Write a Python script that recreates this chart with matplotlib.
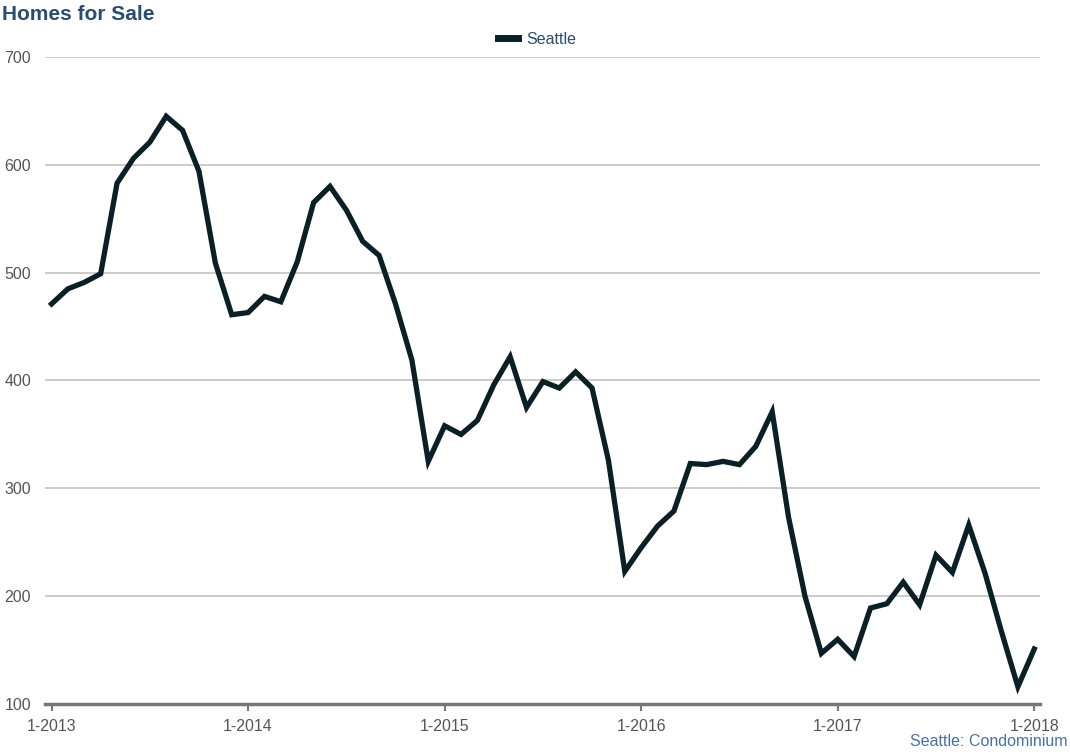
import numpy as np
import matplotlib
matplotlib.use("Agg")
import matplotlib.pyplot as plt

plt.rcParams['font.family'] = ['Liberation Sans', 'DejaVu Sans']

# monthly homes for sale, Jan 2013 .. Jan 2018
seattle = [471, 485, 491, 499, 583, 606, 621, 645, 632, 594, 509, 461,
           463, 478, 473, 510, 565, 580, 558, 529, 516, 471, 419, 325,
           358, 350, 363, 396, 422, 375, 399, 393, 408, 393, 326, 223,
           245, 265, 279, 323, 322, 325, 322, 339, 371, 273, 200, 147,
           160, 144, 189, 193, 213, 192, 238, 222, 266, 221, 167, 116,
           151]
tick_labels = ['1-2013', '1-2014', '1-2015', '1-2016', '1-2017', '1-2018']
y_ticks = [100, 200, 300, 400, 500, 600, 700]

months = np.arange(len(seattle))

fig = plt.figure(figsize=(10.7, 7.56), dpi=100)
ax = fig.add_axes([45/1070, 1 - 704/756, (1040 - 45)/1070, (704 - 57)/756])

ax.plot(months, seattle, color="#0b2026", linewidth=3.8, solid_joinstyle="miter",
        label="Seattle", zorder=3)

ax.set_xlim(-0.4, 60.35)
ax.set_ylim(100, 700)
ax.set_yticks(y_ticks)
ax.set_xticks(np.arange(0, 61, 12))
ax.set_xticklabels(tick_labels)

ax.yaxis.grid(True, color="#c4c4c4", linewidth=1.2)
ax.set_axisbelow(True)
for s in ["top", "right", "left"]:
    ax.spines[s].set_visible(False)
ax.spines["bottom"].set_color("#777777")
ax.spines["bottom"].set_linewidth(2.5)
ax.tick_params(axis="y", length=0, pad=10, labelsize=11.5, labelcolor="#555555")
ax.tick_params(axis="x", length=5, width=1.5, color="#777777", pad=6,
               labelsize=11.5, labelcolor="#555555")

fig.text(2/1070, 1 - 14/756, "Homes for Sale", fontsize=15, fontweight="bold",
         color="#2b4c6f", va="center", ha="left")
fig.text(1067/1070, 1 - 742/756, "Seattle: Condominium", fontsize=11.5,
         color="#4a6fa5", va="center", ha="right")

leg = ax.legend(loc="center", bbox_to_anchor=(537/1070, 1 - 39/756),
                bbox_transform=fig.transFigure, frameon=False, fontsize=11.5,
                handlelength=1.3, handletextpad=0.5)
for t in leg.get_texts():
    t.set_color("#2b4c6f")
for l in leg.get_lines():
    l.set_linewidth(5)

plt.savefig("out.png", dpi=100)
plt.close()
